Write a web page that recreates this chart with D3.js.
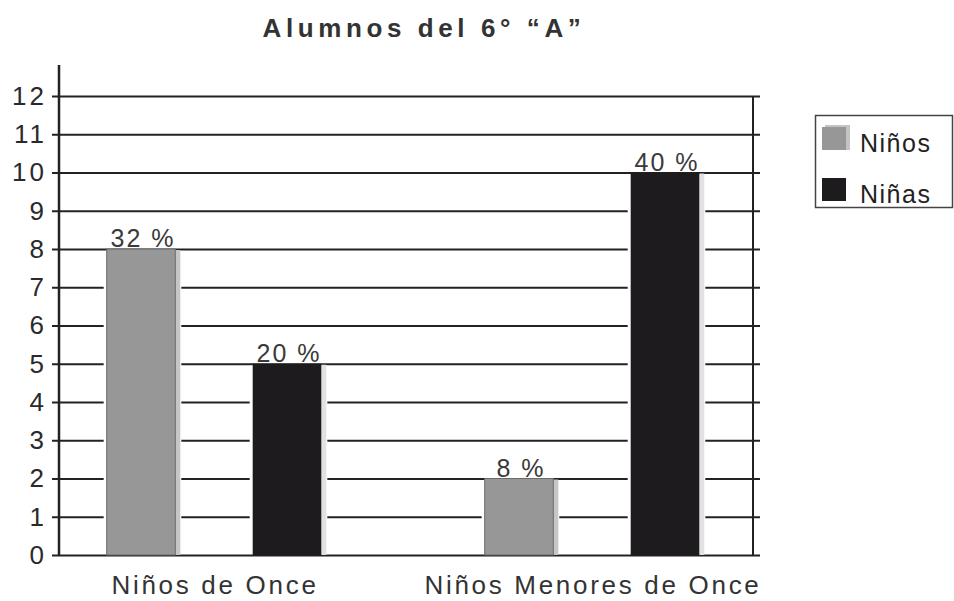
<!DOCTYPE html>
<html>
<head>
<meta charset="utf-8">
<script src="https://cdn.jsdelivr.net/npm/d3@7/dist/d3.min.js"></script>
<style>
  html, body { margin: 0; padding: 0; background: #fff; }
  svg { display: block; font-family: "Liberation Sans", Arial, sans-serif; }
</style>
</head>
<body>
<svg id="chart" width="954" height="601"></svg>
<script>
// Alumnos del 6° "A": number of students by age group and sex
const categories = ["Niños de Once", "Niños Menores de Once"];
const series = ["Niños", "Niñas"];
const ninosValues = [8, 2];
const ninasValues = [5, 10];
const ninosLabels = ["32 %", "8 %"];
const ninasLabels = ["20 %", "40 %"];
const yTicks = [0, 1, 2, 3, 4, 5, 6, 7, 8, 9, 10, 11, 12];

const colors = { "Niños": "#979797", "Niñas": "#1d1b1d" };
const shadows = { "Niños": "#c6c6c6", "Niñas": "#e2e2e2" };

const rows = [];
categories.forEach((c, i) => {
  rows.push({ cat: c, ser: "Niños", value: ninosValues[i], label: ninosLabels[i] });
  rows.push({ cat: c, ser: "Niñas", value: ninasValues[i], label: ninasLabels[i] });
});

const svg = d3.select("#chart");

const gridLeft = 52, gridRight = 760, axisX = 59, frameRight = 753;

const y = d3.scaleLinear().domain([0, 12]).range([555, 96]);

const x0 = d3.scaleBand()
  .domain(categories)
  .range([25, 25 + 2 * 378])
  .paddingInner(0.2275)
  .paddingOuter(0.11375);

const x1 = d3.scaleBand()
  .domain(series)
  .range([0, x0.bandwidth()])
  .paddingInner(0.53)
  .paddingOuter(0.265);

// Title
svg.append("text")
  .attr("x", 424).attr("y", 37)
  .attr("text-anchor", "middle")
  .attr("font-size", 26).attr("font-weight", "bold")
  .attr("letter-spacing", 4.6)
  .attr("fill", "#333")
  .text("Alumnos del 6° “A”");

// Horizontal grid lines with tick labels
const grid = svg.append("g")
  .attr("transform", `translate(${gridRight},0)`)
  .call(d3.axisLeft(y).tickValues(yTicks).tickSize(gridRight - gridLeft).tickPadding(5).tickFormat(d3.format("d")));
grid.select(".domain").remove();
grid.selectAll(".tick line").attr("stroke", "#222").attr("stroke-width", 2);
grid.selectAll(".tick text")
  .attr("font-family", "'Liberation Sans', Arial, sans-serif")
  .attr("font-size", 26)
  .attr("letter-spacing", 3)
  .attr("fill", "#2a2a2a");

// Vertical axis and right frame line
svg.append("line")
  .attr("x1", axisX).attr("x2", axisX)
  .attr("y1", 65).attr("y2", y(0))
  .attr("stroke", "#222").attr("stroke-width", 2.5);
svg.append("line")
  .attr("x1", frameRight).attr("x2", frameRight)
  .attr("y1", y(12)).attr("y2", y(0))
  .attr("stroke", "#222").attr("stroke-width", 2);

// Bars
const bars = svg.append("g").selectAll("g").data(rows).join("g")
  .attr("transform", d => `translate(${x0(d.cat) + x1(d.ser)},0)`);

// white gap that interrupts the grid lines beside each bar
bars.append("rect")
  .attr("x", -3)
  .attr("y", d => y(d.value) + 2)
  .attr("width", x1.bandwidth() + 9)
  .attr("height", d => y(0) - y(d.value) - 3)
  .attr("fill", "#fff");

// soft shadow on the right edge
bars.append("rect")
  .attr("x", x1.bandwidth())
  .attr("y", d => y(d.value) + 1)
  .attr("width", 5)
  .attr("height", d => y(0) - y(d.value) - 1)
  .attr("fill", d => shadows[d.ser]);

bars.append("rect")
  .attr("x", 0)
  .attr("y", d => y(d.value))
  .attr("width", x1.bandwidth())
  .attr("height", d => y(0) - y(d.value))
  .attr("fill", d => colors[d.ser])
  .attr("stroke", d => d.ser === "Niños" ? "#6a6a6a" : "none")
  .attr("stroke-width", 1);

// Value labels above the bars
bars.append("text")
  .attr("x", x1.bandwidth() / 2 + 2)
  .attr("y", d => y(d.value) - 2)
  .attr("text-anchor", "middle")
  .attr("font-size", 25)
  .attr("letter-spacing", 2)
  .attr("fill", "#3a3a3a")
  .text(d => d.label);

// Category labels
svg.append("g").selectAll("text").data(categories).join("text")
  .attr("x", d => x0(d) + x0.bandwidth() / 2 + 1)
  .attr("y", 594)
  .attr("text-anchor", "middle")
  .attr("font-size", 26)
  .attr("letter-spacing", 2.7)
  .attr("fill", "#333")
  .text(d => d);

// Legend
const legend = svg.append("g");
legend.append("rect")
  .attr("x", 815.5).attr("y", 115.5)
  .attr("width", 137).attr("height", 92)
  .attr("fill", "#fff")
  .attr("stroke", "#444").attr("stroke-width", 1.5);

const legendItems = legend.selectAll("g").data(series).join("g")
  .attr("transform", (d, i) => `translate(822,${127 + i * 51})`);
legendItems.filter(d => d === "Niños").append("rect")
  .attr("x", 3).attr("y", -2).attr("width", 25).attr("height", 25)
  .attr("fill", "#c4c4c4");
legendItems.append("rect")
  .attr("x", 0).attr("y", 0).attr("width", 24).attr("height", 23)
  .attr("fill", d => colors[d]);
legendItems.append("text")
  .attr("x", 38).attr("y", 25)
  .attr("font-size", 25)
  .attr("letter-spacing", 1.5)
  .attr("fill", "#222")
  .text(d => d);
</script>
</body>
</html>
